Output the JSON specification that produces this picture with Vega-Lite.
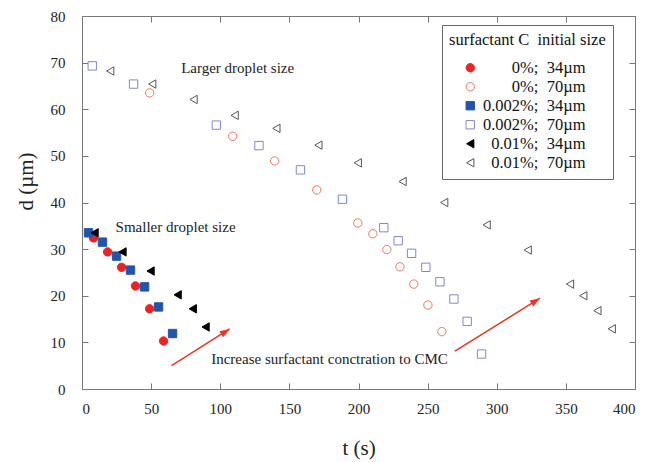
{
  "$schema": "https://vega.github.io/schema/vega-lite/v6.json",
  "width": 553,
  "height": 373,
  "autosize": {"type": "none"},
  "padding": {"left": 82, "top": 16, "right": 17, "bottom": 73},
  "background": "white",
  "config": {
    "view": {"stroke": "#777777", "strokeWidth": 1},
    "font": "Liberation Serif",
    "axis": {
      "grid": false,
      "domain": false,
      "tickSize": -6,
      "tickColor": "#777777",
      "labelFont": "Liberation Serif",
      "labelFontSize": 15,
      "labelColor": "#222222",
      "titleFont": "Liberation Serif",
      "titleFontSize": 21,
      "titleFontWeight": "normal",
      "titleColor": "#222222"
    },
    "legend": {
      "strokeColor": "#666666",
      "fillColor": "white",
      "padding": 7,
      "titleFont": "Liberation Serif",
      "titleFontSize": 16.5,
      "titleFontWeight": "normal",
      "titleColor": "#111111",
      "titleLimit": 300,
      "labelFont": "Liberation Serif",
      "labelFontSize": 16.5,
      "labelColor": "#111111",
      "labelAlign": "right",
      "labelOffset": 107,
      "labelLimit": 300,
      "symbolOffset": 13,
      "rowPadding": 2,
      "titlePadding": 11,
      "symbolStrokeWidth": 1
    }
  },
  "layer": [
    {
      "data": {"values": [
        {"arrow": 1, "t": 64.8, "d": 5.0},
        {"arrow": 1, "t": 106.8, "d": 12.9},
        {"arrow": 2, "t": 269.7, "d": 8.1},
        {"arrow": 2, "t": 331.3, "d": 19.5}
      ]},
      "mark": {"type": "line", "color": "#ee3322", "strokeWidth": 1.5},
      "encoding": {
        "x": {"field": "t", "type": "quantitative", "scale": {"domain": [0, 400], "nice": false}, "axis": null},
        "y": {"field": "d", "type": "quantitative", "scale": {"domain": [0, 80], "nice": false}, "axis": null},
        "detail": {"field": "arrow", "type": "nominal"}
      }
    },
    {
      "data": {"values": [
        {"arrow": 1, "t": 103.8, "d": 12.3},
        {"arrow": 2, "t": 328.2, "d": 18.9}
      ]},
      "mark": {"type": "point", "shape": "M0,-1L0.7,1L-0.7,1Z", "size": 100, "angle": 58, "filled": true, "color": "#ee3322", "opacity": 1},
      "encoding": {
        "x": {"field": "t", "type": "quantitative", "axis": null},
        "y": {"field": "d", "type": "quantitative", "axis": null}
      }
    },
    {
      "data": {"values": [
        {"s": "0%;\u00a0 34µm", "t": 8.3, "d": 32.4},
        {"s": "0%;\u00a0 34µm", "t": 18.5, "d": 29.4},
        {"s": "0%;\u00a0 34µm", "t": 28.6, "d": 26.1},
        {"s": "0%;\u00a0 34µm", "t": 38.7, "d": 22.1},
        {"s": "0%;\u00a0 34µm", "t": 48.9, "d": 17.2},
        {"s": "0%;\u00a0 34µm", "t": 59.0, "d": 10.3},
        {"s": "0%;\u00a0 70µm", "t": 48.9, "d": 63.5},
        {"s": "0%;\u00a0 70µm", "t": 109.0, "d": 54.2},
        {"s": "0%;\u00a0 70µm", "t": 139.4, "d": 48.9},
        {"s": "0%;\u00a0 70µm", "t": 169.8, "d": 42.7},
        {"s": "0%;\u00a0 70µm", "t": 199.5, "d": 35.6},
        {"s": "0%;\u00a0 70µm", "t": 210.4, "d": 33.3},
        {"s": "0%;\u00a0 70µm", "t": 220.5, "d": 29.9},
        {"s": "0%;\u00a0 70µm", "t": 230.0, "d": 26.2},
        {"s": "0%;\u00a0 70µm", "t": 240.0, "d": 22.5},
        {"s": "0%;\u00a0 70µm", "t": 250.2, "d": 18.0},
        {"s": "0%;\u00a0 70µm", "t": 260.3, "d": 12.3},
        {"s": "0.002%;\u00a0 34µm", "t": 4.7, "d": 33.5},
        {"s": "0.002%;\u00a0 34µm", "t": 14.8, "d": 31.5},
        {"s": "0.002%;\u00a0 34µm", "t": 25.0, "d": 28.5},
        {"s": "0.002%;\u00a0 34µm", "t": 35.1, "d": 25.5},
        {"s": "0.002%;\u00a0 34µm", "t": 45.3, "d": 21.9},
        {"s": "0.002%;\u00a0 34µm", "t": 55.4, "d": 17.6},
        {"s": "0.002%;\u00a0 34µm", "t": 65.5, "d": 11.9},
        {"s": "0.002%;\u00a0 70µm", "t": 7.4, "d": 69.3},
        {"s": "0.002%;\u00a0 70µm", "t": 37.3, "d": 65.4},
        {"s": "0.002%;\u00a0 70µm", "t": 97.2, "d": 56.6},
        {"s": "0.002%;\u00a0 70µm", "t": 128.0, "d": 52.2},
        {"s": "0.002%;\u00a0 70µm", "t": 158.0, "d": 47.0},
        {"s": "0.002%;\u00a0 70µm", "t": 188.4, "d": 40.7},
        {"s": "0.002%;\u00a0 70µm", "t": 218.3, "d": 34.6},
        {"s": "0.002%;\u00a0 70µm", "t": 228.7, "d": 31.8},
        {"s": "0.002%;\u00a0 70µm", "t": 238.4, "d": 29.1},
        {"s": "0.002%;\u00a0 70µm", "t": 248.7, "d": 26.1},
        {"s": "0.002%;\u00a0 70µm", "t": 258.9, "d": 23.0},
        {"s": "0.002%;\u00a0 70µm", "t": 269.0, "d": 19.3},
        {"s": "0.002%;\u00a0 70µm", "t": 278.6, "d": 14.5},
        {"s": "0.002%;\u00a0 70µm", "t": 289.0, "d": 7.5},
        {"s": "0.01%;\u00a0 34µm", "t": 9.1, "d": 33.5},
        {"s": "0.01%;\u00a0 34µm", "t": 29.3, "d": 29.4},
        {"s": "0.01%;\u00a0 34µm", "t": 49.6, "d": 25.3},
        {"s": "0.01%;\u00a0 34µm", "t": 69.2, "d": 20.2},
        {"s": "0.01%;\u00a0 34µm", "t": 80.1, "d": 17.2},
        {"s": "0.01%;\u00a0 34µm", "t": 89.4, "d": 13.3},
        {"s": "0.01%;\u00a0 70µm", "t": 20.4, "d": 68.2},
        {"s": "0.01%;\u00a0 70µm", "t": 50.8, "d": 65.4},
        {"s": "0.01%;\u00a0 70µm", "t": 80.7, "d": 62.1},
        {"s": "0.01%;\u00a0 70µm", "t": 110.4, "d": 58.7},
        {"s": "0.01%;\u00a0 70µm", "t": 140.6, "d": 55.9},
        {"s": "0.01%;\u00a0 70µm", "t": 171.0, "d": 52.3},
        {"s": "0.01%;\u00a0 70µm", "t": 199.5, "d": 48.5},
        {"s": "0.01%;\u00a0 70µm", "t": 231.9, "d": 44.5},
        {"s": "0.01%;\u00a0 70µm", "t": 262.0, "d": 40.0},
        {"s": "0.01%;\u00a0 70µm", "t": 292.7, "d": 35.2},
        {"s": "0.01%;\u00a0 70µm", "t": 322.4, "d": 29.8},
        {"s": "0.01%;\u00a0 70µm", "t": 353.0, "d": 22.5},
        {"s": "0.01%;\u00a0 70µm", "t": 362.6, "d": 20.0},
        {"s": "0.01%;\u00a0 70µm", "t": 372.8, "d": 16.8},
        {"s": "0.01%;\u00a0 70µm", "t": 383.2, "d": 12.9}
      ]},
      "mark": {"type": "point", "opacity": 1, "strokeWidth": 1},
      "encoding": {
        "x": {"field": "t", "type": "quantitative", "title": "t (s)",
              "axis": {"orient": "bottom", "values": [0, 50, 100, 150, 200, 250, 300, 350, 400], "labelPadding": 18, "titlePadding": 21}},
        "y": {"field": "d", "type": "quantitative", "title": "d (µm)",
              "axis": {"orient": "left", "values": [0, 10, 20, 30, 40, 50, 60, 70, 80], "labelPadding": 23, "titleX": -46, "titleY": 165}},
        "shape": {"field": "s", "type": "nominal", "title": "surfactant C\u00a0 initial size",
          "scale": {"domain": ["0%;\u00a0 34µm", "0%;\u00a0 70µm", "0.002%;\u00a0 34µm", "0.002%;\u00a0 70µm", "0.01%;\u00a0 34µm", "0.01%;\u00a0 70µm"],
                    "range": ["circle", "circle", "square", "square", "triangle-left", "triangle-left"]},
          "legend": {"orient": "none", "legendX": 360, "legendY": 9}},
        "fill": {"field": "s", "type": "nominal", "title": "surfactant C\u00a0 initial size",
          "scale": {"domain": ["0%;\u00a0 34µm", "0%;\u00a0 70µm", "0.002%;\u00a0 34µm", "0.002%;\u00a0 70µm", "0.01%;\u00a0 34µm", "0.01%;\u00a0 70µm"],
                    "range": ["#ee2222", "#ffffff", "#2255aa", "#ffffff", "#000000", "#ffffff"]}},
        "stroke": {"field": "s", "type": "nominal", "title": "surfactant C\u00a0 initial size",
          "scale": {"domain": ["0%;\u00a0 34µm", "0%;\u00a0 70µm", "0.002%;\u00a0 34µm", "0.002%;\u00a0 70µm", "0.01%;\u00a0 34µm", "0.01%;\u00a0 70µm"],
                    "range": ["#ee2222", "#f07858", "#2255aa", "#8088cc", "#000000", "#555555"]}},
        "size": {"field": "s", "type": "nominal", "title": "surfactant C\u00a0 initial size",
          "scale": {"domain": ["0%;\u00a0 34µm", "0%;\u00a0 70µm", "0.002%;\u00a0 34µm", "0.002%;\u00a0 70µm", "0.01%;\u00a0 34µm", "0.01%;\u00a0 70µm"],
                    "range": [70, 70, 42, 50, 64, 64]}}
      }
    },
    {
      "data": {"values": [
        {"label": "Larger droplet size", "t": 112.6, "d": 68.8},
        {"label": "Smaller droplet size", "t": 67.7, "d": 34.7},
        {"label": "Increase surfactant conctration to CMC", "t": 179.0, "d": 6.4}
      ]},
      "mark": {"type": "text", "font": "Liberation Serif", "fontSize": 15, "color": "#222222", "align": "center", "baseline": "middle"},
      "encoding": {
        "x": {"field": "t", "type": "quantitative",
              "axis": {"orient": "top", "values": [0, 50, 100, 150, 200, 250, 300, 350, 400], "labels": false, "title": null}},
        "y": {"field": "d", "type": "quantitative",
              "axis": {"orient": "right", "values": [0, 10, 20, 30, 40, 50, 60, 70, 80], "labels": false, "title": null}},
        "text": {"field": "label", "type": "nominal"}
      }
    }
  ],
  "resolve": {"axis": {"x": "independent", "y": "independent"}}
}
